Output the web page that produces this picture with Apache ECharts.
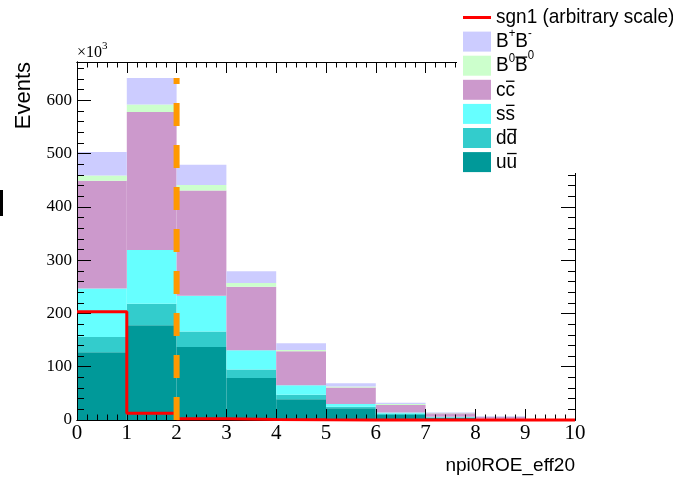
<!DOCTYPE html>
<html>
<head>
<meta charset="utf-8">
<script src="https://cdn.jsdelivr.net/npm/echarts@6/dist/echarts.min.js"></script>
<style>
  html, body { margin: 0; padding: 0; background: #ffffff; }
  #chart { width: 673px; height: 477px; }
</style>
</head>
<body>
<div id="chart"></div>
<script>
// ---- histogram contents: one entry per unit-wide bin of npi0ROE_eff20, range [0, 10) ----
const binLabels = ['0', '1', '2', '3', '4', '5', '6', '7', '8', '9'];
const binEdges = [0, 1, 2, 3, 4, 5, 6, 7, 8, 9, 10];

// background components (thousands of events), stacked bottom to top
const uuBar   = [127, 178, 137, 79, 39, 22, 9.5, 4, 1.5, 0.3];
const ddBar   = [29, 40, 29, 16, 8.5, 3, 2.5, 1, 0.5, 0.1];
const ssBar   = [91, 101, 67, 36, 17.5, 5, 2, 1, 0.5, 0.1];
const ccBar   = [202, 259, 198, 119, 64, 31, 14, 6.5, 3.5, 0.4];
const b0b0Bar = [10, 14, 10, 7, 2.5, 2, 2, 1, 0.5, 0.05];
const bpbmBar = [44, 50, 38, 22, 12.5, 6, 2.5, 1, 1, 0.1];

// signal shape, arbitrary normalisation
const sgn1 = [203, 12.5, 2.5, 0.8, 0.4, 0.2, 0.1, 0.05, 0.02, 0.01];

// selection cut position
const cutValue = 2;

// axis settings
const yMax = 672;
const yMajorStep = 100;
const yMinorStep = 20;
const xMajorStep = 1;
const xMinorStep = 0.2;

// legend entries: each label is a list of [text, style] pieces
// style: '' plain, 'sup' superscript, 'suphi' raised superscript, 'bar' overlined
const legendLabels = [
  [['sgn1 (arbitrary scale)', '']],
  [['B', ''], ['+', 'sup'], ['B', ''], ['-', 'sup']],
  [['B', ''], ['0', 'sup'], ['B', 'bar'], ['0', 'suphi']],
  [['c', ''], ['c', 'bar']],
  [['s', ''], ['s', 'bar']],
  [['d', ''], ['d', 'bar']],
  [['u', ''], ['u', 'bar']]
];
const colors = {
  sgn1: '#ff0000',
  bpbm: '#ccccff',
  b0b0: '#ccffcc',
  cc: '#cc99cc',
  ss: '#66ffff',
  dd: '#33cccc',
  uu: '#009999',
  cut: '#ff9900'
};

// ---- layout ----
const plot = { left: 77, right: 575, top: 62, bottom: 420 };
const SERIF = '"Liberation Serif", "Times New Roman", serif';
const SANS = '"Liberation Sans", Arial, Helvetica, sans-serif';

const chart = echarts.init(document.getElementById('chart'), null, { renderer: 'canvas' });

// step-line points for the signal histogram
const sgnPoints = sgn1.map((v, i) => [binEdges[i], v]);
sgnPoints.push([binEdges[binEdges.length - 1], sgn1[sgn1.length - 1]]);

// the cut line reaches up to the tallest stacked bin
const stackTotals = binLabels.map((_, i) =>
  uuBar[i] + ddBar[i] + ssBar[i] + ccBar[i] + b0b0Bar[i] + bpbmBar[i]);
const cutTop = Math.max(...stackTotals);

// text measurement for the hand-laid legend labels
const measureCtx = document.createElement('canvas').getContext('2d');
function textWidth(str, size, family) {
  measureCtx.font = size + 'px ' + family;
  return measureCtx.measureText(str).width;
}

const graphics = [];
// white legend box, covering the frame corner
graphics.push({ type: 'rect', z: 50, shape: { x: 457, y: 0, width: 216, height: 173 }, style: { fill: '#ffffff' } });

const legendColors = [colors.sgn1, colors.bpbm, colors.b0b0, colors.cc, colors.ss, colors.dd, colors.uu];
const LF = 19;          // legend font size
const LSY = 1.1;        // legend text vertical stretch
const rowY0 = 17.5, rowStep = 24.1;
const symX = 463, symW = 28, textX = 496;
legendLabels.forEach((pieces, i) => {
  const yc = rowY0 + i * rowStep;
  if (i === 0) {
    graphics.push({ type: 'line', z: 60, shape: { x1: symX, y1: yc, x2: symX + symW, y2: yc },
      style: { stroke: legendColors[i], lineWidth: 3 } });
  } else {
    graphics.push({ type: 'rect', z: 60, shape: { x: symX, y: yc - 10, width: symW, height: 20 },
      style: { fill: legendColors[i] } });
  }
  let x = textX;
  pieces.forEach(([t, kind]) => {
    const isSup = kind === 'sup' || kind === 'suphi';
    const size = isSup ? LF * 0.6 : LF;
    const dy = kind === 'sup' ? -LF * 0.4 : kind === 'suphi' ? -LF * 0.54 : 0;
    graphics.push({ type: 'text', z: 60, x: x, y: yc + dy, scaleY: LSY,
      style: { text: t, fontSize: size, fontFamily: SANS, fill: '#000000', align: 'left', verticalAlign: 'middle' } });
    const w = textWidth(t, size, SANS);
    if (kind === 'bar') {
      const oy = yc - LF * 0.41 * LSY;
      graphics.push({ type: 'line', z: 60, shape: { x1: x + 0.5, y1: oy, x2: x + w - 0.5, y2: oy },
        style: { stroke: '#000000', lineWidth: 1.3 } });
    }
    x += w;
  });
});

// axis titles and the axis multiplier
graphics.push({ type: 'text', z: 60, x: 24, y: plot.top, rotation: Math.PI / 2,
  style: { text: 'Events', fontSize: 22, fontFamily: SANS, fill: '#000', align: 'right', verticalAlign: 'middle' } });
graphics.push({ type: 'text', z: 60, x: plot.right, y: 466,
  style: { text: 'npi0ROE_eff20', fontSize: 19, fontFamily: SANS, fill: '#000', align: 'right', verticalAlign: 'middle' } });
const mulW = textWidth('\u00d710', 16, SERIF);
graphics.push({ type: 'text', z: 60, x: plot.left, y: 53,
  style: { text: '\u00d710', fontSize: 16, fontFamily: SERIF, fill: '#000', align: 'left', verticalAlign: 'middle' } });
graphics.push({ type: 'text', z: 60, x: plot.left + mulW, y: 46.5,
  style: { text: '3', fontSize: 11, fontFamily: SERIF, fill: '#000', align: 'left', verticalAlign: 'middle' } });
// small mark at the left page edge
graphics.push({ type: 'rect', z: 60, shape: { x: 0, y: 190, width: 3, height: 26 }, style: { fill: '#000' } });

const tickStyle = { color: '#000', width: 1 };
function xAxisDef(pos, step, len, labels) {
  return {
    type: 'value', position: pos, min: 0, max: 10, interval: step, z: 10,
    axisLine: { show: true, onZero: false, lineStyle: { color: '#000', width: 1 } },
    axisTick: { show: true, inside: true, length: len, lineStyle: tickStyle },
    axisLabel: labels ? { show: true, margin: 3, fontSize: 21, fontFamily: SERIF, color: '#000',
      formatter: v => (Math.abs(v - Math.round(v)) < 1e-6 ? String(Math.round(v)) : '') } : { show: false },
    splitLine: { show: false }, minorTick: { show: false }
  };
}
function yAxisDef(pos, step, len, labels) {
  return {
    type: 'value', position: pos, min: 0, max: yMax, interval: step, z: 10,
    axisLine: { show: true, onZero: false, lineStyle: { color: '#000', width: 1 } },
    axisTick: { show: true, inside: true, length: len, lineStyle: tickStyle },
    axisLabel: labels ? { show: true, margin: 5, fontSize: 17, fontFamily: SERIF, color: '#000',
      showMaxLabel: false,
      formatter: v => (v % yMajorStep === 0 ? String(v) : '') } : { show: false },
    splitLine: { show: false }, minorTick: { show: false }
  };
}

function barSeries(name, data, color) {
  return {
    name: name, type: 'bar', stack: 'bkg', xAxisIndex: 4, yAxisIndex: 0,
    data: data, barWidth: '100%', barCategoryGap: 0, z: 2,
    itemStyle: { color: color }, emphasis: { disabled: true }, silent: true
  };
}

const option = {
  animation: false,
  backgroundColor: '#ffffff',
  grid: { left: plot.left, right: 673 - plot.right, top: plot.top, bottom: 477 - plot.bottom,
    containLabel: false, outerBoundsMode: 'none' },
  xAxis: [
    xAxisDef('bottom', xMajorStep, 11, true),
    xAxisDef('bottom', xMinorStep, 5.5, false),
    xAxisDef('top', xMajorStep, 11, false),
    xAxisDef('top', xMinorStep, 5.5, false),
    { type: 'category', position: 'bottom', data: binLabels, boundaryGap: true, show: false }
  ],
  yAxis: [
    yAxisDef('left', yMajorStep, 14, true),
    yAxisDef('left', yMinorStep, 7, false),
    yAxisDef('right', yMajorStep, 14, false),
    yAxisDef('right', yMinorStep, 7, false)
  ],
  series: [
    barSeries('uu', uuBar, colors.uu),
    barSeries('dd', ddBar, colors.dd),
    barSeries('ss', ssBar, colors.ss),
    barSeries('cc', ccBar, colors.cc),
    barSeries('B0B0', b0b0Bar, colors.b0b0),
    barSeries('B+B-', bpbmBar, colors.bpbm),
    {
      name: 'sgn1', type: 'line', xAxisIndex: 0, yAxisIndex: 0, step: 'end',
      data: sgnPoints, showSymbol: false, symbol: 'none', clip: false, z: 20, silent: true,
      lineStyle: { color: colors.sgn1, width: 3 }
    },
    {
      name: 'cut', type: 'line', xAxisIndex: 0, yAxisIndex: 0,
      data: [[cutValue, 0], [cutValue, cutTop]], symbol: 'none', showSymbol: false, z: 30, silent: true,
      lineStyle: { color: colors.cut, width: 6, type: [23, 19], cap: 'butt' }
    }
  ],
  graphic: { elements: graphics }
};
chart.setOption(option);
</script>
</body>
</html>
